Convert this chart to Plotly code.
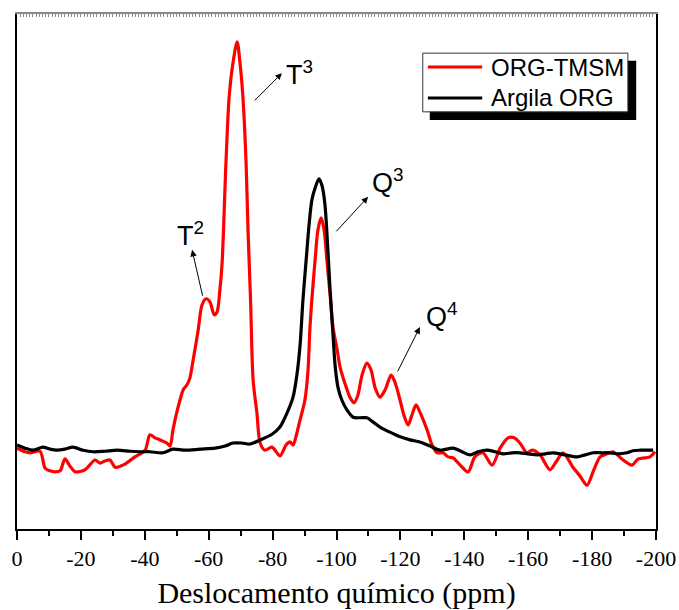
import plotly.graph_objects as go

# ---- data (chemical shift in ppm, intensity in a.u.) ----
red_ppm = [0, -2.5, -4.1, -7.2, -8.8, -10.3, -11.9, -13.5, -15.0, -16.6, -18.2, -21.3, -24.4, -26.0,
           -27.5, -29.1, -30.7, -33.8, -36.9, -40.1, -41.6, -43.2, -44.8, -46.9, -47.9, -48.8, -49.8,
           -51.0, -52.0, -53.2, -54.1, -55.4, -56.7, -57.9, -59.2, -60.4, -61.7, -62.6, -63.5, -64.2,
           -65.4, -66.4, -67.6, -68.9, -69.8, -70.7, -71.7, -72.3, -73.1, -73.9, -75.1, -76.1, -77.6,
           -79.8, -82.3, -84.2, -85.4, -86.4, -87.3, -88.6, -90.1, -91.1, -91.7, -93.3, -94.2, -95.2,
           -96.1, -97.0, -98.0, -98.9, -100.2, -101.1, -103.0, -104.2, -105.5, -106.7, -108.0, -109.5,
           -110.8, -112.1, -113.6, -115.2, -117.1, -118.3, -119.9, -121.1, -122.4, -123.6, -124.9,
           -126.1, -127.4, -128.6, -129.9, -131.5, -133.3, -134.9, -136.5, -138.7, -141.2, -143.3,
           -145.8, -148.7, -151.2, -153.7, -155.6, -157.4, -159.6, -161.2, -163.7, -166.8, -168.7,
           -170.9, -174.0, -176.2, -178.4, -180.3, -182.5, -184.7, -186.5, -189.7, -192.5, -194.4,
           -196.6, -198.1, -199.7]
red_int = [15.7, 15.0, 14.8, 15.1, 11.8, 11.3, 11.1, 11.3, 13.6, 12.2, 11.1, 11.5, 13.4, 12.8,
           13.2, 13.4, 12.0, 12.6, 14.0, 15.3, 18.3, 17.7, 17.3, 16.7, 16.1, 19.2, 22.1,
           25.0, 27.0, 28.0, 29.3, 33.8, 38.6, 43.5, 44.7, 44.1, 41.6, 42.1, 46.4, 51.7,
           71.1, 83.9, 90.5, 94.6, 90.5, 83.9, 71.1, 58.1, 44.5, 28.9, 22.5, 16.7, 15.3,
           15.9, 14.2, 16.3, 16.9, 16.3, 17.9, 21.2, 25.0, 30.9, 39.2, 52.2, 58.1, 60.4,
           58.1, 52.2, 45.4, 39.2, 34.8, 31.5, 27.6, 25.6, 24.5, 26.0, 29.9, 32.2,
           30.9, 27.4, 25.6, 27.0, 29.9, 28.5, 25.0, 22.1, 20.2, 22.1, 24.1,
           22.7, 20.8, 18.8, 16.3, 14.8, 14.8, 14.0, 13.8, 12.4, 11.1, 14.0,
           14.8, 12.4, 15.7, 17.7, 17.7, 16.7, 14.8, 15.3, 14.4, 11.5, 13.0,
           14.8, 12.0, 10.3, 8.5, 11.1, 14.0, 14.6, 15.0, 13.4, 12.4, 13.6,
           13.8, 14.0, 15.0]

black_ppm = [0, -2.5, -5.0, -8.1, -10.3, -12.5, -15.0, -17.5, -20.7, -23.8, -27.5, -31.3, -35.4,
             -38.5, -41.6, -45.7, -48.8, -52.6, -57.3, -62.0, -65.1, -67.6, -70.4, -72.9, -76.1,
             -79.8, -82.3, -84.5, -86.4, -87.6, -88.6, -89.5, -90.5, -91.4, -92.3, -93.3, -94.5,
             -95.5, -96.4, -97.3, -98.0, -98.9, -99.6, -100.5, -101.7, -103.3, -105.2, -107.4,
             -109.5, -111.4, -113.6, -116.7, -119.9, -123.0, -126.1, -129.3, -132.4, -136.5,
             -139.3, -141.8, -144.3, -147.1, -149.6, -152.1, -154.9, -157.4, -159.9, -162.8,
             -165.3, -167.8, -171.5, -175.3, -177.8, -180.3, -183.1, -185.6, -188.1, -190.9,
             -192.8, -195.0, -197.2, -199.1]
black_int = [16.3, 15.7, 15.3, 15.9, 15.5, 15.3, 15.5, 15.9, 15.3, 15.0, 15.1, 15.3, 15.1,
             15.0, 15.0, 14.8, 15.5, 15.3, 15.5, 15.7, 16.1, 16.7, 16.7, 16.5, 17.3,
             18.4, 19.8, 22.5, 25.6, 29.9, 35.7, 44.5, 52.2, 59.0, 63.9, 66.2, 68.0,
             66.6, 62.9, 54.2, 46.4, 37.7, 31.5, 27.4, 25.0, 23.1, 21.7, 21.6,
             21.6, 20.8, 19.8, 18.8, 17.9, 17.3, 16.9, 16.1, 15.3, 15.7,
             15.0, 14.4, 15.0, 15.3, 15.0, 14.6, 14.8, 14.8, 14.6, 14.4,
             14.6, 14.8, 14.4, 14.0, 14.4, 14.8, 14.8, 14.8, 14.6, 14.8,
             15.2, 15.3, 15.3, 15.3]

series_names = ["ORG-TMSM", "Argila ORG"]
series_colors = ["#ff0000", "#000000"]

x_tickvals = [0, -20, -40, -60, -80, -100, -120, -140, -160, -180, -200]
x_ticktext = ["0", "-20", "-40", "-60", "-80", "-100", "-120", "-140", "-160", "-180", "-200"]
x_minor = [-10, -30, -50, -70, -90, -110, -130, -150, -170, -190]

# peak labels: (text, text_x, text_y, arrow_tail_x, arrow_tail_y, arrow_head_x, arrow_head_y)
peak_labels = [
    ("T<sup>3</sup>", -83.6, 88.5, -73.9, 82.9, -82.9, 88.5),
    ("T<sup>2</sup>", -49.3, 57.3, -58.2, 45.0, -54.8, 54.2),
    ("Q<sup>3</sup>", -110.4, 67.6, -99.5, 57.5, -109.9, 64.5),
    ("Q<sup>4</sup>", -127.3, 41.5, -118.9, 30.3, -126.1, 39.2),
]

fig = go.Figure()
fig.add_trace(go.Scatter(x=red_ppm, y=red_int, mode="lines", name=series_names[0],
                         line=dict(color=series_colors[0], width=3.2, shape="spline", smoothing=0.8)))
fig.add_trace(go.Scatter(x=black_ppm, y=black_int, mode="lines", name=series_names[1],
                         line=dict(color=series_colors[1], width=3.2, shape="spline", smoothing=0.8)))
# invisible trace on top x axis
fig.add_trace(go.Scatter(x=[0, -200], y=[None, None], xaxis="x2", showlegend=False, hoverinfo="skip"))

for text, tx, ty, ax_, ay_, hx, hy in peak_labels:
    fig.add_annotation(x=hx, y=hy, ax=ax_, ay=ay_, xref="x", yref="y", axref="x", ayref="y",
                       text="", showarrow=True, arrowhead=2, arrowsize=1.3, arrowwidth=1,
                       arrowcolor="black", standoff=0, startstandoff=0)
    fig.add_annotation(x=tx, y=ty, xref="x", yref="y", text=text, showarrow=False,
                       xanchor="left", yanchor="middle",
                       font=dict(family="Liberation Sans, Arial", size=27, color="black"))

# manual legend with drop shadow
fig.add_shape(type="rect", xref="paper", yref="paper", x0=0.646, x1=0.969, y0=0.794, y1=0.909,
              fillcolor="black", line=dict(width=0), layer="above")
fig.add_shape(type="rect", xref="paper", yref="paper", x0=0.635, x1=0.956, y0=0.810, y1=0.924,
              fillcolor="white", line=dict(color="#333333", width=1), layer="above")
leg_y = [0.897, 0.837]
for i, name in enumerate(series_names):
    fig.add_shape(type="line", xref="paper", yref="paper", x0=0.643, x1=0.728, y0=leg_y[i], y1=leg_y[i],
                  line=dict(color=series_colors[i], width=3), layer="above")
    fig.add_annotation(x=0.738, y=leg_y[i], xref="paper", yref="paper", text=name, showarrow=False,
                       xanchor="left", yanchor="middle",
                       font=dict(family="Liberation Sans, Arial", size=24, color="black"))

fig.update_layout(
    width=679, height=610,
    margin=dict(l=17, r=23, t=14, b=81, autoexpand=False),
    paper_bgcolor="white", plot_bgcolor="white",
    showlegend=False,
    xaxis=dict(range=[0, -200], tickmode="array", tickvals=x_tickvals, ticktext=x_ticktext,
               automargin=False,
               showgrid=False, zeroline=False, showline=True, linecolor="black", linewidth=2,
               ticks="outside", ticklen=9, tickwidth=2, tickcolor="black",
               minor=dict(tickvals=x_minor, ticks="outside", ticklen=5, tickwidth=2, tickcolor="black"),
               tickfont=dict(family="Liberation Serif, Times New Roman", size=22, color="black"),
               title=dict(text="Deslocamento químico (ppm)", standoff=12,
                          font=dict(family="Liberation Serif, Times New Roman", size=30, color="black"))),
    xaxis2=dict(range=[0, -200], overlaying="x", side="top", showgrid=False, zeroline=False,
                automargin=False,
                showline=True, linecolor="#8a8a8a", linewidth=1.5, ticks="inside", ticklen=3,
                tickwidth=1, tickcolor="#8a8a8a", tickmode="linear", tick0=0, dtick=-10,
                showticklabels=False),
    yaxis=dict(range=[0, 100], showgrid=False, zeroline=False, showline=True, linecolor="black",
               automargin=False,
               linewidth=2, mirror=True, ticks="", showticklabels=False),
)

fig.write_html("out.html")
